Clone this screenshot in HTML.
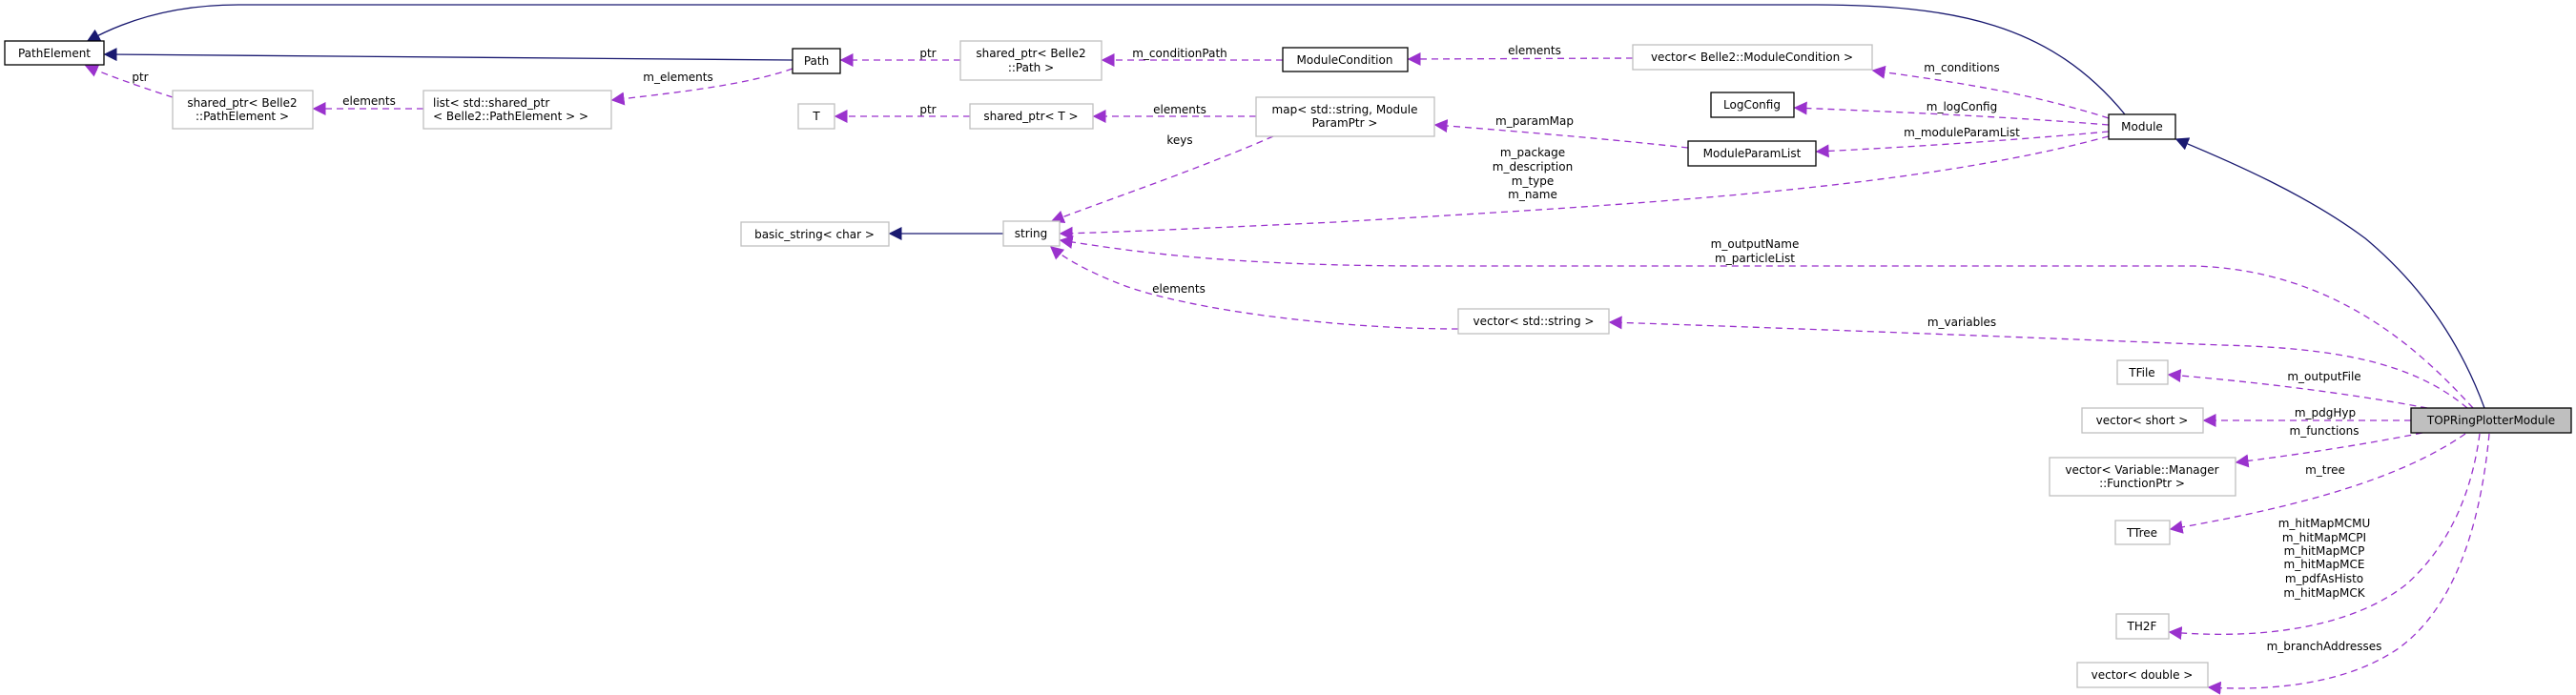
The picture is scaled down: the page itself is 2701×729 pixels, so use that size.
<!DOCTYPE html>
<html><head><meta charset="utf-8"><style>
html,body{margin:0;padding:0;background:#fff;}
svg{display:block;}
text{font-family:"DejaVu Sans","Liberation Sans",sans-serif;font-size:12px;fill:#000;}
.n{fill:#fff;stroke:#bfbfbf;stroke-width:1.3;}
.b{fill:#fff;stroke:#000;stroke-width:1.3;}
.d{fill:none;stroke:#9a32cd;stroke-width:1.3;stroke-dasharray:7,5;}
.s{fill:none;stroke:#191970;stroke-width:1.3;}
</style></head><body>
<svg width="2701" height="729" viewBox="0 0 2701 729" xmlns="http://www.w3.org/2000/svg">
<defs>
<marker id="p" viewBox="0 0 10 10" refX="9" refY="5" markerWidth="14" markerHeight="14" markerUnits="userSpaceOnUse" orient="auto"><path d="M0,0 L10,5 L0,10 z" fill="#9a32cd"/></marker>
<marker id="q" viewBox="0 0 10 10" refX="9" refY="5" markerWidth="14" markerHeight="14" markerUnits="userSpaceOnUse" orient="auto"><path d="M0,0 L10,5 L0,10 z" fill="#191970"/></marker>
</defs>

<!-- edges -->
<path class="s" marker-end="url(#q)" d="M2228,120 C2150,25 2050,5 1900,5 L250,5 C180,5 130,22 92,43"/>
<path class="s" marker-end="url(#q)" d="M831,63 L110,57"/>
<path class="s" marker-end="url(#q)" d="M1052,245 L933,245"/>
<path class="d" marker-end="url(#p)" d="M181,102 C150,92 115,80 90,69"/>
<text x="147" y="85" text-anchor="middle">ptr</text>
<path class="d" marker-end="url(#p)" d="M444,114 L329,114"/>
<text x="387" y="110" text-anchor="middle">elements</text>
<path class="d" marker-end="url(#p)" d="M831,72 C780,90 700,98 642,105"/>
<text x="711" y="85" text-anchor="middle">m_elements</text>
<path class="d" marker-end="url(#p)" d="M1007,63 L882,63"/>
<text x="973" y="60" text-anchor="middle">ptr</text>
<path class="d" marker-end="url(#p)" d="M1345,63 L1156,63"/>
<text x="1237" y="60" text-anchor="middle">m_conditionPath</text>
<path class="d" marker-end="url(#p)" d="M1712,61 L1477,62"/>
<text x="1609" y="57" text-anchor="middle">elements</text>
<path class="d" marker-end="url(#p)" d="M2211,124 C2120,95 2040,85 1964,74"/>
<text x="2057" y="75" text-anchor="middle">m_conditions</text>
<path class="d" marker-end="url(#p)" d="M2211,131 C2100,122 1980,117 1882,113"/>
<text x="2057" y="116" text-anchor="middle">m_logConfig</text>
<path class="d" marker-end="url(#p)" d="M2211,138 C2100,148 1990,155 1905,159"/>
<text x="2057" y="143" text-anchor="middle">m_moduleParamList</text>
<path class="d" marker-end="url(#p)" d="M1770,155 C1680,145 1580,137 1505,131"/>
<text x="1609" y="131" text-anchor="middle">m_paramMap</text>
<path class="d" marker-end="url(#p)" d="M1317,122 L1147,122"/>
<text x="1237" y="119" text-anchor="middle">elements</text>
<path class="d" marker-end="url(#p)" d="M1017,122 L876,122"/>
<text x="973" y="119" text-anchor="middle">ptr</text>
<path class="d" marker-end="url(#p)" d="M1335,143 C1250,180 1160,210 1103,232"/>
<text x="1237" y="151" text-anchor="middle">keys</text>
<path class="d" marker-end="url(#p)" d="M2211,143 C2000,200 1700,215 1400,233 C1250,240 1160,244 1112,245"/>
<text x="1607" y="164" text-anchor="middle">m_package</text>
<text x="1607" y="179" text-anchor="middle">m_description</text>
<text x="1607" y="194" text-anchor="middle">m_type</text>
<text x="1607" y="208" text-anchor="middle">m_name</text>
<path class="d" marker-end="url(#p)" d="M2593,428 C2540,370 2450,283 2300,279 L1500,279 C1300,279 1200,266 1112,252"/>
<text x="1840" y="260" text-anchor="middle">m_outputName</text>
<text x="1840" y="275" text-anchor="middle">m_particleList</text>
<path class="d" marker-end="url(#p)" d="M2587,428 C2530,380 2450,365 2330,362 C2150,355 1900,345 1688,338"/>
<text x="2057" y="342" text-anchor="middle">m_variables</text>
<path class="d" marker-end="url(#p)" d="M1529,345 C1400,345 1250,325 1180,300 C1140,285 1115,270 1102,259"/>
<text x="1236" y="307" text-anchor="middle">elements</text>
<path class="d" marker-end="url(#p)" d="M2545,428 C2460,412 2360,400 2274,393"/>
<text x="2437" y="399" text-anchor="middle">m_outputFile</text>
<path class="d" marker-end="url(#p)" d="M2528,441 L2311,441"/>
<text x="2438" y="437" text-anchor="middle">m_pdgHyp</text>
<path class="d" marker-end="url(#p)" d="M2540,454 C2470,468 2400,478 2345,485"/>
<text x="2437" y="456" text-anchor="middle">m_functions</text>
<path class="d" marker-end="url(#p)" d="M2585,455 C2520,500 2420,530 2276,555"/>
<text x="2438" y="497" text-anchor="middle">m_tree</text>
<path class="d" marker-end="url(#p)" d="M2600,455 C2590,530 2560,580 2523,613 C2470,655 2380,672 2275,663"/>
<text x="2437" y="553" text-anchor="middle">m_hitMapMCMU</text>
<text x="2437" y="568" text-anchor="middle">m_hitMapMCPI</text>
<text x="2437" y="582" text-anchor="middle">m_hitMapMCP</text>
<text x="2437" y="596" text-anchor="middle">m_hitMapMCE</text>
<text x="2437" y="611" text-anchor="middle">m_pdfAsHisto</text>
<text x="2437" y="626" text-anchor="middle">m_hitMapMCK</text>
<path class="d" marker-end="url(#p)" d="M2610,455 C2600,560 2570,640 2515,680 C2460,718 2380,725 2316,721"/>
<text x="2437" y="682" text-anchor="middle">m_branchAddresses</text>
<path class="s" marker-end="url(#q)" d="M2605,428 C2580,360 2540,300 2480,250 C2420,205 2340,170 2282,146"/>

<!-- nodes -->
<rect class="b" x="5" y="43" width="104" height="25"/><text x="57" y="60" text-anchor="middle">PathElement</text>
<rect class="b" x="831" y="51" width="50" height="26"/><text x="856" y="68" text-anchor="middle">Path</text>
<rect class="n" x="181" y="95" width="147" height="40"/><text x="254" y="112" text-anchor="middle">shared_ptr&lt; Belle2</text><text x="254" y="126" text-anchor="middle">::PathElement &gt;</text>
<rect class="n" x="444" y="95" width="197" height="40"/><text x="454" y="112">list&lt; std::shared_ptr</text><text x="454" y="126">&lt; Belle2::PathElement &gt; &gt;</text>
<rect class="n" x="837" y="109" width="38" height="26"/><text x="856" y="126" text-anchor="middle">T</text>
<rect class="n" x="777" y="233" width="155" height="25"/><text x="854" y="250" text-anchor="middle">basic_string&lt; char &gt;</text>
<rect class="n" x="1007" y="43" width="148" height="41"/><text x="1081" y="60" text-anchor="middle">shared_ptr&lt; Belle2</text><text x="1081" y="75" text-anchor="middle">::Path &gt;</text>
<rect class="b" x="1345" y="50" width="131" height="25"/><text x="1410" y="67" text-anchor="middle">ModuleCondition</text>
<rect class="n" x="1712" y="47" width="251" height="26"/><text x="1837" y="64" text-anchor="middle">vector&lt; Belle2::ModuleCondition &gt;</text>
<rect class="n" x="1017" y="109" width="129" height="26"/><text x="1081" y="126" text-anchor="middle">shared_ptr&lt; T &gt;</text>
<rect class="n" x="1317" y="102" width="187" height="41"/><text x="1410" y="119" text-anchor="middle">map&lt; std::string, Module</text><text x="1410" y="133" text-anchor="middle">ParamPtr &gt;</text>
<rect class="b" x="1794" y="97" width="87" height="26"/><text x="1837" y="114" text-anchor="middle">LogConfig</text>
<rect class="b" x="1770" y="148" width="134" height="26"/><text x="1837" y="165" text-anchor="middle">ModuleParamList</text>
<rect class="b" x="2211" y="120" width="70" height="26"/><text x="2246" y="137" text-anchor="middle">Module</text>
<rect class="n" x="1052" y="232" width="59" height="26"/><text x="1081" y="249" text-anchor="middle">string</text>
<rect class="n" x="1529" y="324" width="158" height="26"/><text x="1608" y="341" text-anchor="middle">vector&lt; std::string &gt;</text>
<rect class="n" x="2220" y="378" width="53" height="25"/><text x="2246" y="395" text-anchor="middle">TFile</text>
<rect class="n" x="2183" y="428" width="127" height="26"/><text x="2246" y="445" text-anchor="middle">vector&lt; short &gt;</text>
<rect class="n" x="2149" y="480" width="195" height="40"/><text x="2246" y="497" text-anchor="middle">vector&lt; Variable::Manager</text><text x="2246" y="511" text-anchor="middle">::FunctionPtr &gt;</text>
<rect class="n" x="2218" y="546" width="57" height="25"/><text x="2246" y="563" text-anchor="middle">TTree</text>
<rect class="n" x="2219" y="644" width="55" height="26"/><text x="2246" y="661" text-anchor="middle">TH2F</text>
<rect class="n" x="2178" y="695" width="137" height="26"/><text x="2246" y="712" text-anchor="middle">vector&lt; double &gt;</text>
<rect x="2528" y="428" width="168" height="26" fill="#bfbfbf" stroke="#000" stroke-width="1.3"/><text x="2612" y="445" text-anchor="middle">TOPRingPlotterModule</text>
</svg>
</body></html>
